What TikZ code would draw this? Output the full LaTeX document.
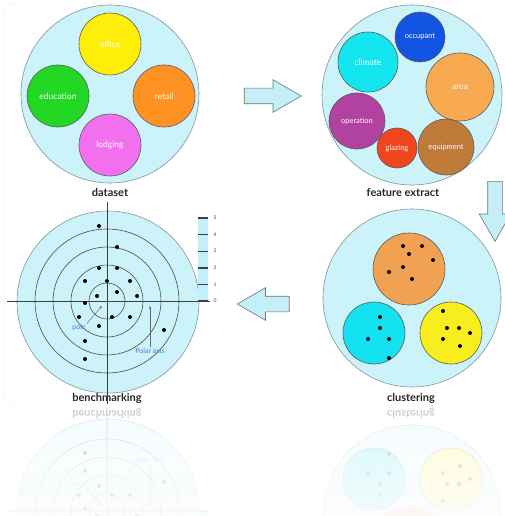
\documentclass[tikz,border=0pt]{standalone}
\usepackage{fontspec}
\setmainfont{Lato}
\usetikzlibrary{shapes.arrows,arrows.meta}
\definecolor{poolfill}{RGB}{204,242,250}
\definecolor{rim}{RGB}{125,150,150}
\definecolor{arrowfill}{RGB}{196,238,248}
\definecolor{office}{RGB}{255,238,10}
\definecolor{education}{RGB}{34,216,34}
\definecolor{retail}{RGB}{255,146,34}
\definecolor{lodging}{RGB}{242,112,238}
\definecolor{occupant}{RGB}{18,84,226}
\definecolor{climate}{RGB}{20,230,240}
\definecolor{area}{RGB}{248,170,80}
\definecolor{operation}{RGB}{178,66,160}
\definecolor{glazing}{RGB}{240,70,30}
\definecolor{equipment}{RGB}{192,122,58}
\definecolor{clusterA}{RGB}{240,162,82}
\definecolor{clusterB}{RGB}{20,226,240}
\definecolor{clusterC}{RGB}{248,238,30}
\definecolor{notecol}{RGB}{70,120,215}
\tikzset{
  pool/.style={circle, draw=rim, fill=poolfill, line width=0.6pt, inner sep=0pt},
  blob/.style={circle, draw=black!65, line width=0.6pt, inner sep=0pt, text=white,
    font=\fontsize{8.5}{9}\selectfont},
  stage/.style={font=\bfseries\fontsize{11}{12}\selectfont, text=black!85},
  note/.style={text=notecol, font=\fontsize{7}{8}\selectfont, inner sep=1pt},
  tick/.style={font=\fontsize{5}{6}\selectfont, text=black!70, inner sep=1pt},
  blockarrow/.style={single arrow, draw=black!55, fill=arrowfill, line width=0.6pt,
    inner xsep=0pt, inner ysep=7.5pt, minimum height=57pt,
    single arrow head extend=8.5pt, single arrow tip angle=60},
}
\newif\ifmirror
% bottom row, drawn twice (picture and reflection)
\newcommand\bottomrow{%
  % benchmarking
  \node[pool, minimum size=182pt] (bench) at (108,302) {};
  \foreach \r in {18,36,54,72}
    \draw[black!70, line width=0.6pt] (107,301) circle[radius=\r];
  \fill[arrowfill] (198,217) rectangle (208,301);
  \foreach \k in {0,...,5} {
    \draw[black!75, line width=1.4pt] (198,301-\k*16.6) -- (208,301-\k*16.6);
    \ifmirror\else\node[tick] (tick\k) at (215,301-\k*16.6) {\k};\fi
  }
  \draw[black!75, line width=0.8pt] (7,301) -- (210,301)
                                    (107,202) -- (107,404);
  \foreach \p in {(99,226),(117,247),(99,268),(117,268),(85,281),(107,281),
                  (130,281),(97,296),(117,292),(137,296),(85,303),(79,317),
                  (99,326),(112,317),(130,317),(164,330),(85,341),(85,359)}
    \fill[black] \p circle[radius=2];
  \coordinate (poleTip) at (102,306);
  \node[note] (pole) at (79,328) {pole};
  \draw[black!60, -{Stealth[length=3pt]}] (pole.north east) -- (poleTip);
  \coordinate (axisTip) at (150,306);
  \node[note] (polar) at (150,351) {Polar axis};
  \draw[black!60, -{Stealth[length=3pt]}] (polar.north) -- (axisTip);
  \node[stage] (benchLabel) at (107,398) {benchmarking};
  % clustering
  \node[pool, minimum size=178pt] (clusters) at (412,298) {};
  \node[blob, fill=clusterA, minimum size=72pt] (groupA) at (409,269) {};
  \node[blob, fill=clusterB, minimum size=62pt] (groupB) at (374,333) {};
  \node[blob, fill=clusterC, minimum size=62pt] (groupC) at (451,333) {};
  \foreach \p in {(403,246),(422,246),(409,254),(433,260),(403,267),(389,272),
                  (412,279),(380,317),(380,328),(368,339),(389,339),(389,358),
                  (443,311),(447,328),(459,328),(470,333),(443,339),(460,346)}
    \fill[black] \p circle[radius=2];
  \node[stage] (clusterLabel) at (411,398) {clustering};
}
\begin{document}
\begin{tikzpicture}[x=1pt, y=-1pt]
\useasboundingbox (0,0) rectangle (505,516);
% panel
\draw[black!8, rounded corners=12pt] (4,3) rectangle (520,404);
% dataset
\node[pool, minimum size=178pt] (dataset) at (110,94) {};
\node[blob, fill=office, minimum size=62pt] (office) at (110,44) {office};
\node[blob, fill=education, minimum size=62pt] (education) at (58,96) {education};
\node[blob, fill=retail, minimum size=62pt] (retail) at (164,96) {retail};
\node[blob, fill=lodging, minimum size=62pt] (lodging) at (110,145) {lodging};
\node[stage] (datasetLabel) at (110,192) {dataset};
% feature extract
\node[pool, minimum size=180pt] (features) at (412,95) {};
\node[blob, fill=occupant, minimum size=50pt, font=\fontsize{7.5}{8}\selectfont] (occupant) at (420,37) {occupant};
\node[blob, fill=climate, minimum size=60pt] (climate) at (368,62) {climate};
\node[blob, fill=area, minimum size=68pt] (area) at (460,87) {area};
\node[blob, fill=operation, minimum size=56pt, font=\fontsize{7.5}{8}\selectfont] (operation) at (357,121) {operation};
\node[blob, fill=glazing, minimum size=40pt, font=\fontsize{7.5}{8}\selectfont] (glazing) at (397,148) {glazing};
\node[blob, fill=equipment, minimum size=56pt, font=\fontsize{7.5}{8}\selectfont] (equipment) at (446,147) {equipment};
\node[stage] (featuresLabel) at (403,192) {feature extract};
% arrows
\node[blockarrow] (toFeatures) at (266,96) {};
\node[blockarrow, shape border rotate=270, inner xsep=7pt, inner ysep=0pt,
      minimum height=60pt] (toClusters) at (495,205) {};
\node[blockarrow, shape border rotate=180, minimum height=52pt] (toBench) at (270,304) {};
% bottom row
\bottomrow
% reflection
\begin{scope}
  \clip (0,406) rectangle (505,516);
  \mirrortrue
  \begin{scope}[shift={(0,812)}, yscale=-1, transform shape, transparency group, opacity=0.22]
    \bottomrow
  \end{scope}
  \foreach \k in {0,...,9}
    \fill[white, opacity=0.12] (0,425+\k*9) rectangle (505,516);
\end{scope}
\end{tikzpicture}
\end{document}
